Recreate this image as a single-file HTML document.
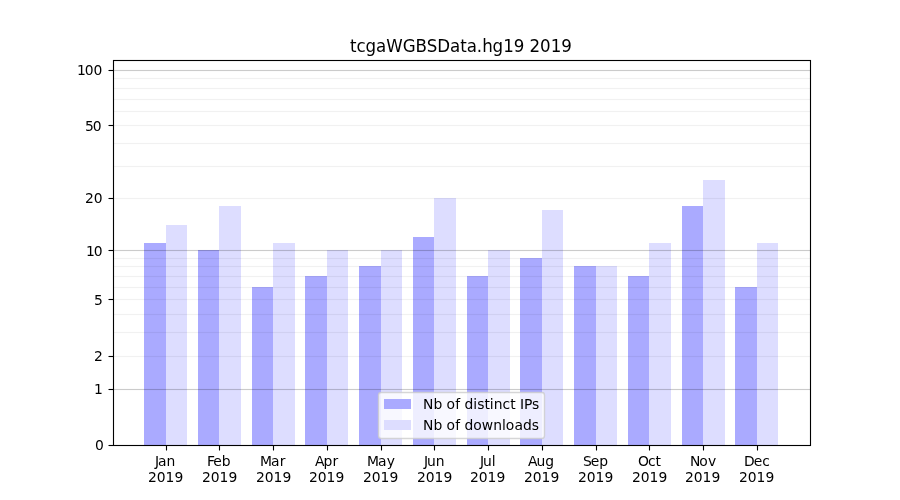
<!DOCTYPE html>
<html lang="en"><head><meta charset="utf-8"><title>tcgaWGBSData.hg19 2019</title>
<style>html,body{margin:0;padding:0;background:#fff;overflow:hidden}svg{display:block}text{font-family:"DejaVu Sans","Liberation Sans",sans-serif;fill:#000}.t10{font-size:13.889px}.t12{font-size:16.667px}</style>
</head><body>
<svg width="900" height="500" viewBox="0 0 900 500">
<rect x="0" y="0" width="900" height="500" fill="#ffffff"/>
<g shape-rendering="crispEdges">
<rect x="144" y="243" width="22" height="202" fill="#aaaaff"/>
<rect x="166" y="225" width="21" height="220" fill="#ddddff"/>
<rect x="198" y="250" width="21" height="195" fill="#aaaaff"/>
<rect x="219" y="206" width="22" height="239" fill="#ddddff"/>
<rect x="252" y="287" width="21" height="158" fill="#aaaaff"/>
<rect x="273" y="243" width="22" height="202" fill="#ddddff"/>
<rect x="305" y="276" width="22" height="169" fill="#aaaaff"/>
<rect x="327" y="250" width="21" height="195" fill="#ddddff"/>
<rect x="359" y="266" width="22" height="179" fill="#aaaaff"/>
<rect x="381" y="250" width="21" height="195" fill="#ddddff"/>
<rect x="413" y="237" width="21" height="208" fill="#aaaaff"/>
<rect x="434" y="198" width="22" height="247" fill="#ddddff"/>
<rect x="467" y="276" width="21" height="169" fill="#aaaaff"/>
<rect x="488" y="250" width="22" height="195" fill="#ddddff"/>
<rect x="520" y="258" width="22" height="187" fill="#aaaaff"/>
<rect x="542" y="210" width="21" height="235" fill="#ddddff"/>
<rect x="574" y="266" width="22" height="179" fill="#aaaaff"/>
<rect x="596" y="266" width="21" height="179" fill="#ddddff"/>
<rect x="628" y="276" width="21" height="169" fill="#aaaaff"/>
<rect x="649" y="243" width="22" height="202" fill="#ddddff"/>
<rect x="682" y="206" width="21" height="239" fill="#aaaaff"/>
<rect x="703" y="180" width="22" height="265" fill="#ddddff"/>
<rect x="735" y="287" width="22" height="158" fill="#aaaaff"/>
<rect x="757" y="243" width="21" height="202" fill="#ddddff"/>
</g>
<g shape-rendering="crispEdges" fill="#000">
<rect x="114" y="388" width="696" height="3" fill-opacity="0.0115"/><rect x="114" y="389" width="696" height="1" fill-opacity="0.191"/>
<rect x="114" y="249" width="696" height="3" fill-opacity="0.0115"/><rect x="114" y="250" width="696" height="1" fill-opacity="0.191"/>
<rect x="114" y="69" width="696" height="3" fill-opacity="0.0115"/><rect x="114" y="70" width="696" height="1" fill-opacity="0.191"/>
<rect x="114" y="355" width="696" height="3" fill-opacity="0.0032"/><rect x="114" y="356" width="696" height="1" fill-opacity="0.0522"/>
<rect x="114" y="331" width="696" height="3" fill-opacity="0.0032"/><rect x="114" y="332" width="696" height="1" fill-opacity="0.0522"/>
<rect x="114" y="313" width="696" height="3" fill-opacity="0.0032"/><rect x="114" y="314" width="696" height="1" fill-opacity="0.0522"/>
<rect x="114" y="298" width="696" height="3" fill-opacity="0.0032"/><rect x="114" y="299" width="696" height="1" fill-opacity="0.0522"/>
<rect x="114" y="286" width="696" height="3" fill-opacity="0.0032"/><rect x="114" y="287" width="696" height="1" fill-opacity="0.0522"/>
<rect x="114" y="275" width="696" height="3" fill-opacity="0.0032"/><rect x="114" y="276" width="696" height="1" fill-opacity="0.0522"/>
<rect x="114" y="265" width="696" height="3" fill-opacity="0.0032"/><rect x="114" y="266" width="696" height="1" fill-opacity="0.0522"/>
<rect x="114" y="257" width="696" height="3" fill-opacity="0.0032"/><rect x="114" y="258" width="696" height="1" fill-opacity="0.0522"/>
<rect x="114" y="197" width="696" height="3" fill-opacity="0.0032"/><rect x="114" y="198" width="696" height="1" fill-opacity="0.0522"/>
<rect x="114" y="165" width="696" height="3" fill-opacity="0.0032"/><rect x="114" y="166" width="696" height="1" fill-opacity="0.0522"/>
<rect x="114" y="142" width="696" height="3" fill-opacity="0.0032"/><rect x="114" y="143" width="696" height="1" fill-opacity="0.0522"/>
<rect x="114" y="124" width="696" height="3" fill-opacity="0.0032"/><rect x="114" y="125" width="696" height="1" fill-opacity="0.0522"/>
<rect x="114" y="110" width="696" height="3" fill-opacity="0.0032"/><rect x="114" y="111" width="696" height="1" fill-opacity="0.0522"/>
<rect x="114" y="98" width="696" height="3" fill-opacity="0.0032"/><rect x="114" y="99" width="696" height="1" fill-opacity="0.0522"/>
<rect x="114" y="87" width="696" height="3" fill-opacity="0.0032"/><rect x="114" y="88" width="696" height="1" fill-opacity="0.0522"/>
<rect x="114" y="77" width="696" height="3" fill-opacity="0.0032"/><rect x="114" y="78" width="696" height="1" fill-opacity="0.0522"/>
</g>
<g stroke="#000" stroke-width="1.111" fill="none">
<line x1="108.5" y1="445.5" x2="113" y2="445.5"/>
<line x1="108.5" y1="389.5" x2="113" y2="389.5"/>
<line x1="108.5" y1="356.5" x2="113" y2="356.5"/>
<line x1="108.5" y1="299.5" x2="113" y2="299.5"/>
<line x1="108.5" y1="250.5" x2="113" y2="250.5"/>
<line x1="108.5" y1="198.5" x2="113" y2="198.5"/>
<line x1="108.5" y1="125.5" x2="113" y2="125.5"/>
<line x1="108.5" y1="70.5" x2="113" y2="70.5"/>
<line x1="166.5" y1="445.5" x2="166.5" y2="450.5"/>
<line x1="219.5" y1="445.5" x2="219.5" y2="450.5"/>
<line x1="273.5" y1="445.5" x2="273.5" y2="450.5"/>
<line x1="327.5" y1="445.5" x2="327.5" y2="450.5"/>
<line x1="381.5" y1="445.5" x2="381.5" y2="450.5"/>
<line x1="434.5" y1="445.5" x2="434.5" y2="450.5"/>
<line x1="488.5" y1="445.5" x2="488.5" y2="450.5"/>
<line x1="542.5" y1="445.5" x2="542.5" y2="450.5"/>
<line x1="596.5" y1="445.5" x2="596.5" y2="450.5"/>
<line x1="649.5" y1="445.5" x2="649.5" y2="450.5"/>
<line x1="703.5" y1="445.5" x2="703.5" y2="450.5"/>
<line x1="757.5" y1="445.5" x2="757.5" y2="450.5"/>
<rect x="113.5" y="60.5" width="697" height="385" stroke-linejoin="miter"/>
</g>
<text transform="translate(460.875,52.000) scale(0.92594,1)" style="font-size:18px" x="-119.84 -112.83 -102.97 -91.59 -80.60 -62.84 -48.95 -36.95 -25.57 -11.76 -0.76 6.26 17.25 23.05 34.29 45.67 57.09 68.50 74.18 85.59 97.01 108.42">tcgaWGBSData.hg19 2019</text>
<text class="t10" x="94.94" y="450.000">0</text>
<text class="t10" x="93.94" y="394.000">1</text>
<text class="t10" x="93.94" y="361.000">2</text>
<text class="t10" x="93.94" y="305.000">5</text>
<text class="t10" x="85.98 93.87" y="256.000">10</text>
<text class="t10" x="85.11 93.75" y="203.000">20</text>
<text class="t10" x="85.00 92.87" y="131.000">50</text>
<text class="t10" x="76.91 84.86 93.56" y="75.000">100</text>
<text class="t10" x="154.92 158.01 166.53" y="466.000">Jan</text>
<text class="t10" x="147.92 156.73 165.56 174.39" y="482.000">2019</text>
<text class="t10" x="206.94 213.30 221.72" y="466.000">Feb</text>
<text class="t10" x="201.91 210.72 219.55 228.38" y="482.000">2019</text>
<text class="t10" x="259.98 271.05 279.78" y="466.000">Mar</text>
<text class="t10" x="256.12 264.83 273.53 282.48" y="482.000">2019</text>
<text class="t10" x="314.93 323.60 332.49" y="466.000">Apr</text>
<text class="t10" x="309.11 317.82 326.52 335.47" y="482.000">2019</text>
<text class="t10" x="366.97 378.08 386.72" y="466.000">May</text>
<text class="t10" x="363.10 371.81 380.51 389.46" y="482.000">2019</text>
<text class="t10" x="423.90 427.11 435.66" y="466.000">Jun</text>
<text class="t10" x="417.09 425.86 434.62 443.39" y="482.000">2019</text>
<text class="t10" x="479.93 483.06 491.64" y="466.000">Jul</text>
<text class="t10" x="470.08 478.85 487.61 496.38" y="482.000">2019</text>
<text class="t10" x="527.97 536.59 545.28" y="466.000">Aug</text>
<text class="t10" x="524.00 532.79 541.59 550.39" y="482.000">2019</text>
<text class="t10" x="582.93 590.86 599.28" y="466.000">Sep</text>
<text class="t10" x="577.99 586.78 595.58 604.38" y="482.000">2019</text>
<text class="t10" x="637.99 648.04 655.57" y="466.000">Oct</text>
<text class="t10" x="631.92 640.74 649.56 658.39" y="482.000">2019</text>
<text class="t10" x="689.93 699.33 708.08" y="466.000">Nov</text>
<text class="t10" x="684.96 693.69 702.43 711.41" y="482.000">2019</text>
<text class="t10" x="743.91 753.85 762.16" y="466.000">Dec</text>
<text class="t10" x="738.95 747.68 756.42 765.40" y="482.000">2019</text>
<rect x="378.5" y="392.5" width="166" height="46" rx="2.78" ry="2.78" fill="#fff" fill-opacity="0.8" stroke="#ccc" stroke-opacity="0.8" stroke-width="1.389"/>
<g shape-rendering="crispEdges"><rect x="384" y="399" width="27" height="10" fill="#aaaaff"/><rect x="384" y="420" width="27" height="10" fill="#ddddff"/></g>
<text class="t10" x="423.07 433.44 442.24 446.54 455.15 460.04 464.44 473.26 477.23 484.46 489.77 493.63 502.43 510.18 515.49 519.90 523.99 532.12" y="409.000">Nb of distinct IPs</text>
<text class="t10" x="422.94 433.48 442.18 446.62 455.15 460.05 464.49 473.34 481.85 493.23 502.05 505.82 514.46 522.99 531.84" y="430.000">Nb of downloads</text>
</svg>
</body></html>
